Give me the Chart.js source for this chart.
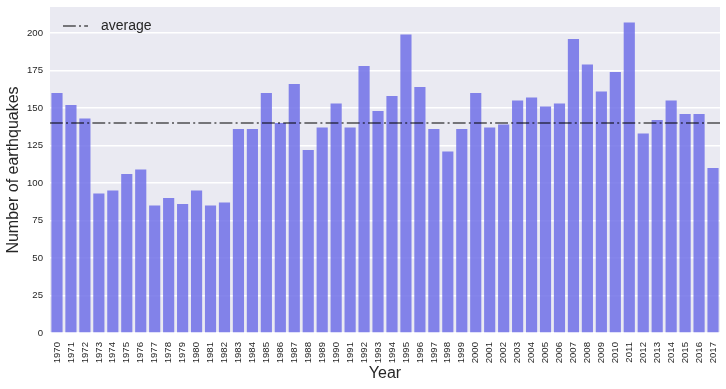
<!DOCTYPE html>
<html>
<head>
<meta charset="utf-8">
<script src="https://cdn.jsdelivr.net/npm/chart.js@4.4.0/dist/chart.umd.min.js"></script>
<style>
  html, body { margin: 0; padding: 0; background: #fff; }
  canvas { display: block; }
</style>
</head>
<body>
<canvas id="quakes" width="726" height="389"></canvas>
<script>
  // Yearly earthquake counts
  const years = [
    '1970', '1971', '1972', '1973', '1974', '1975', '1976', '1977', '1978', '1979',
    '1980', '1981', '1982', '1983', '1984', '1985', '1986', '1987', '1988', '1989',
    '1990', '1991', '1992', '1993', '1994', '1995', '1996', '1997', '1998', '1999',
    '2000', '2001', '2002', '2003', '2004', '2005', '2006', '2007', '2008', '2009',
    '2010', '2011', '2012', '2013', '2014', '2015', '2016', '2017'
  ];
  const quakeCounts = [
    160, 152, 143, 93, 95, 106, 109, 85, 90, 86,
    95, 85, 87, 136, 136, 160, 140, 166, 122, 137,
    153, 137, 178, 148, 158, 199, 164, 136, 121, 136,
    160, 137, 139, 155, 157, 151, 153, 196, 179, 161,
    174, 207, 133, 142, 155, 146, 146, 110
  ];
  const averageCount = 140;
  const averageLabel = 'average';
  const yTicks = [0, 25, 50, 75, 100, 125, 150, 175, 200];

  const textColor = '#262626';
  const fontFamily = '"Liberation Sans", Arial, sans-serif';
  const avgColor = 'rgba(0,0,0,0.5)';
  const avgDash = [12.8, 3.2, 2, 3.2];

  // grey plot background like seaborn darkgrid
  const plotBackground = {
    id: 'plotBackground',
    beforeDraw(chart) {
      const { ctx, chartArea } = chart;
      ctx.save();
      ctx.fillStyle = '#eaeaf2';
      ctx.fillRect(chartArea.left, chartArea.top, chartArea.right - chartArea.left, chartArea.bottom - chartArea.top);
      ctx.restore();
    }
  };

  // legend sits inside the plot, top-left, without a frame
  const insideLegend = {
    id: 'insideLegend',
    afterDatasetsDraw(chart) {
      const { ctx, chartArea } = chart;
      const x = chartArea.left + 13;
      const y = chartArea.top + 19;
      ctx.save();
      ctx.strokeStyle = avgColor;
      ctx.lineWidth = 2;
      ctx.setLineDash(avgDash);
      ctx.beginPath();
      ctx.moveTo(x, y);
      ctx.lineTo(x + 25, y);
      ctx.stroke();
      ctx.setLineDash([]);
      ctx.fillStyle = textColor;
      ctx.font = '14px ' + fontFamily;
      ctx.textBaseline = 'middle';
      ctx.fillText(averageLabel, x + 38, y);
      ctx.restore();
    }
  };

  new Chart(document.getElementById('quakes'), {
    type: 'bar',
    data: {
      labels: years,
      datasets: [
        {
          type: 'line',
          label: averageLabel,
          data: [{ x: 0, y: averageCount }, { x: 1, y: averageCount }],
          xAxisID: 'x2',
          borderColor: avgColor,
          borderWidth: 2,
          borderDash: avgDash,
          pointRadius: 0,
          fill: false,
          order: 0
        },
        {
          label: 'count',
          data: quakeCounts,
          backgroundColor: 'rgba(112,112,232,0.85)',
          borderWidth: 0,
          grouped: false,
          barPercentage: 0.8,
          categoryPercentage: 1,
          order: 1
        }
      ]
    },
    options: {
      responsive: false,
      animation: false,
      layout: { padding: { top: 7, right: 6, left: 0, bottom: 0 } },
      plugins: {
        legend: { display: false },
        tooltip: { enabled: false }
      },
      scales: {
        x: {
          grid: { display: false, drawTicks: false },
          border: { display: false },
          ticks: {
            autoSkip: false,
            minRotation: 90,
            maxRotation: 90,
            padding: 9,
            color: textColor,
            font: { family: fontFamily, size: 9.6 }
          },
          title: {
            display: true,
            text: 'Year',
            color: textColor,
            font: { family: fontFamily, size: 16 },
            padding: { top: 0, bottom: 6 }
          },
          afterFit(scale) {
            scale.height = 56;
            scale.paddingLeft = 0;
            scale.paddingRight = 0;
          }
        },
        x2: {
          type: 'linear',
          display: false,
          min: 0,
          max: 1,
          offset: false
        },
        y: {
          min: 0,
          max: 217.4,
          grid: { color: '#ffffff', lineWidth: 1.5, drawTicks: false },
          border: { display: false },
          ticks: {
            padding: 7,
            color: textColor,
            font: { family: fontFamily, size: 9.6 }
          },
          afterBuildTicks(scale) {
            scale.ticks = yTicks.map(v => ({ value: v }));
          },
          title: {
            display: true,
            text: 'Number of earthquakes',
            color: textColor,
            font: { family: fontFamily, size: 16 },
            padding: { top: 4, bottom: 0 }
          },
          afterFit(scale) {
            scale.width = 50;
            scale.paddingTop = 0;
            scale.paddingBottom = 0;
          }
        }
      }
    },
    plugins: [plotBackground, insideLegend]
  });
</script>
</body>
</html>
